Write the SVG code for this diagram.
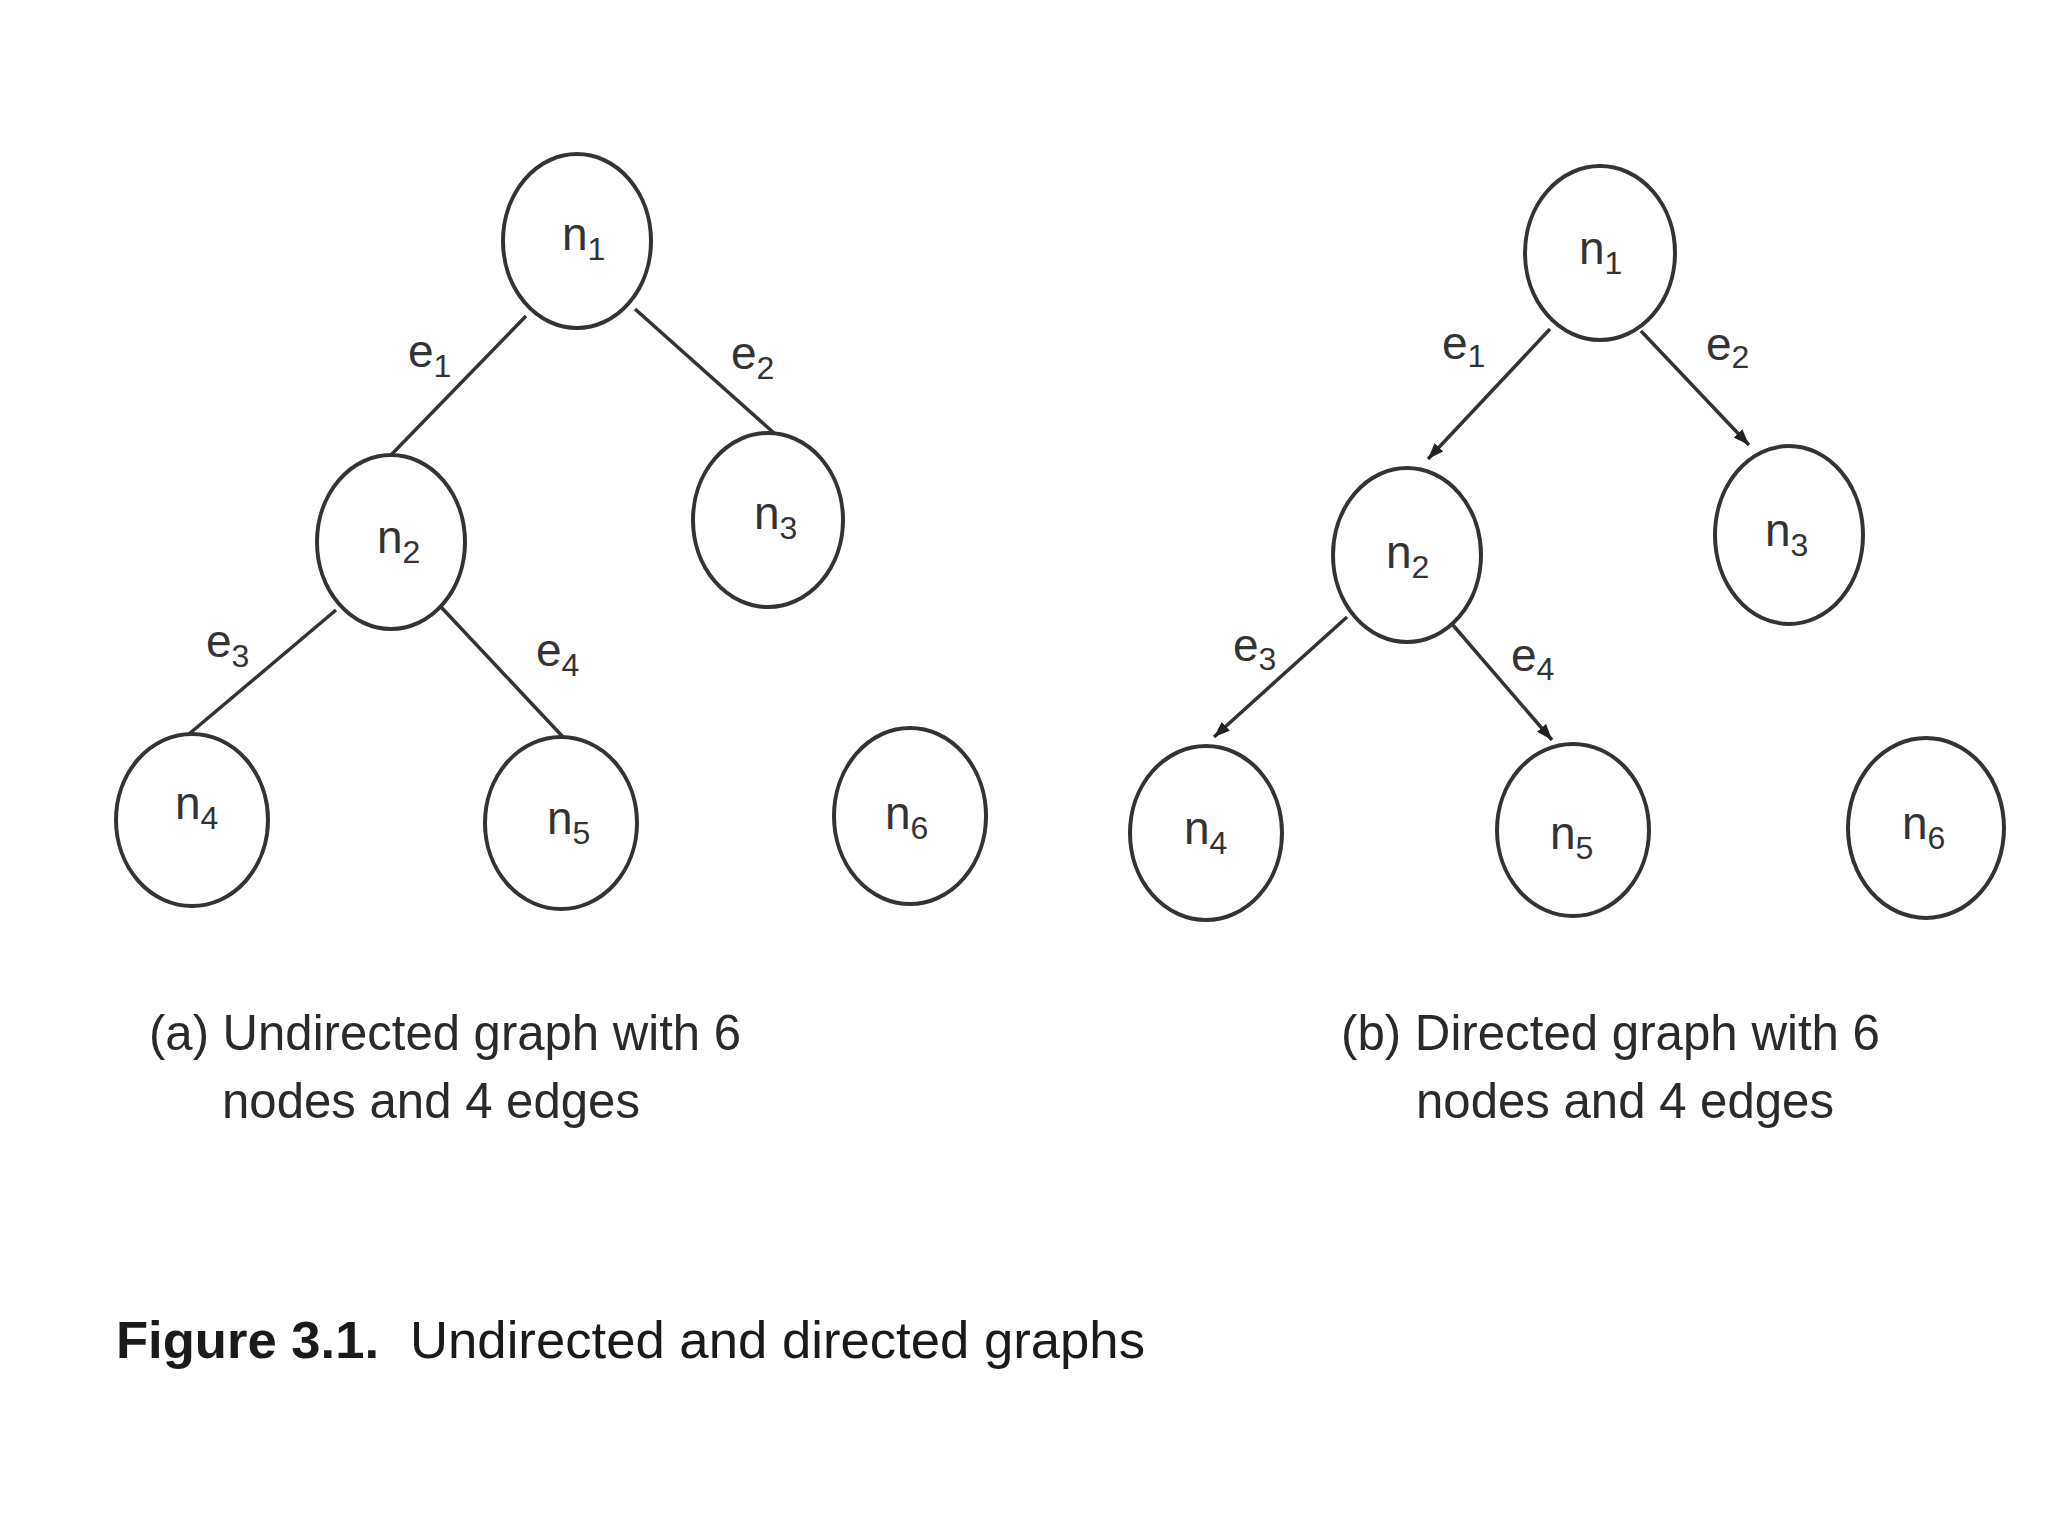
<svg xmlns="http://www.w3.org/2000/svg" width="2048" height="1536" viewBox="0 0 2048 1536">
<style>
.node{fill:#fff;stroke:#333;stroke-width:4}
.edge{stroke:#333;stroke-width:3.5;fill:none}
.lbl{font-family:"Liberation Sans",Arial,sans-serif;font-size:46px;fill:#333}
.sub{font-size:32px}
.cap{font-family:"Liberation Sans",Arial,sans-serif;font-size:50px;fill:#2a2a2a}
.fig{font-family:"Liberation Sans",Arial,sans-serif;font-size:52px;fill:#1a1a1a}
</style>
<defs>
<marker id="arr" markerUnits="userSpaceOnUse" markerWidth="18" markerHeight="12" refX="16" refY="6" orient="auto">
<path d="M0,0 L16,6 L0,12 z" fill="#222"/>
</marker>
</defs>
<rect width="2048" height="1536" fill="#fff"/>
<g id="connectors">
<line class="edge" x1="526" y1="316" x2="391" y2="455"/>
<line class="edge" x1="635" y1="309" x2="774" y2="433"/>
<line class="edge" x1="336" y1="610" x2="189" y2="734"/>
<line class="edge" x1="441" y1="607" x2="563" y2="737"/>
<line class="edge" x1="1550" y1="329" x2="1428" y2="459" marker-end="url(#arr)"/>
<line class="edge" x1="1641" y1="331" x2="1749" y2="445" marker-end="url(#arr)"/>
<line class="edge" x1="1347" y1="617" x2="1214" y2="737" marker-end="url(#arr)"/>
<line class="edge" x1="1452" y1="624" x2="1552" y2="740" marker-end="url(#arr)"/>
</g>
<g id="edge-labels">
<text class="lbl" x="408" y="367">e<tspan class="sub" dy="10">1</tspan></text>
<text class="lbl" x="731" y="369">e<tspan class="sub" dy="10">2</tspan></text>
<text class="lbl" x="206" y="657">e<tspan class="sub" dy="10">3</tspan></text>
<text class="lbl" x="536" y="666">e<tspan class="sub" dy="10">4</tspan></text>
<text class="lbl" x="1442" y="359">e<tspan class="sub" dy="8">1</tspan></text>
<text class="lbl" x="1706" y="360">e<tspan class="sub" dy="8">2</tspan></text>
<text class="lbl" x="1233" y="661">e<tspan class="sub" dy="9">3</tspan></text>
<text class="lbl" x="1511" y="671">e<tspan class="sub" dy="9">4</tspan></text>
</g>
<g id="a-n1"><ellipse class="node" cx="577" cy="241" rx="74" ry="87"/><text class="lbl" x="562" y="250">n<tspan class="sub" dy="10">1</tspan></text></g>
<g id="a-n2"><ellipse class="node" cx="391" cy="542" rx="74" ry="87"/><text class="lbl" x="377" y="553">n<tspan class="sub" dy="10">2</tspan></text></g>
<g id="a-n3"><ellipse class="node" cx="768" cy="520" rx="75" ry="87"/><text class="lbl" x="754" y="529">n<tspan class="sub" dy="10">3</tspan></text></g>
<g id="a-n4"><ellipse class="node" cx="192" cy="820" rx="76" ry="86"/><text class="lbl" x="175" y="819">n<tspan class="sub" dy="10">4</tspan></text></g>
<g id="a-n5"><ellipse class="node" cx="561" cy="823" rx="76" ry="86"/><text class="lbl" x="547" y="834">n<tspan class="sub" dy="10">5</tspan></text></g>
<g id="a-n6"><ellipse class="node" cx="910" cy="816" rx="76" ry="88"/><text class="lbl" x="885" y="829">n<tspan class="sub" dy="10">6</tspan></text></g>
<g id="b-n1"><ellipse class="node" cx="1600" cy="253" rx="75" ry="87"/><text class="lbl" x="1579" y="264">n<tspan class="sub" dy="10">1</tspan></text></g>
<g id="b-n2"><ellipse class="node" cx="1407" cy="555" rx="74" ry="87"/><text class="lbl" x="1386" y="568">n<tspan class="sub" dy="10">2</tspan></text></g>
<g id="b-n3"><ellipse class="node" cx="1789" cy="535" rx="74" ry="89"/><text class="lbl" x="1765" y="546">n<tspan class="sub" dy="10">3</tspan></text></g>
<g id="b-n4"><ellipse class="node" cx="1206" cy="833" rx="76" ry="87"/><text class="lbl" x="1184" y="844">n<tspan class="sub" dy="10">4</tspan></text></g>
<g id="b-n5"><ellipse class="node" cx="1573" cy="830" rx="76" ry="86"/><text class="lbl" x="1550" y="849">n<tspan class="sub" dy="10">5</tspan></text></g>
<g id="b-n6"><ellipse class="node" cx="1926" cy="828" rx="78" ry="90"/><text class="lbl" x="1902" y="839">n<tspan class="sub" dy="10">6</tspan></text></g>
<g id="captions">
<text class="cap" x="149" y="1050" textLength="592" lengthAdjust="spacingAndGlyphs">(a) Undirected graph with 6</text>
<text class="cap" x="222" y="1118" textLength="418" lengthAdjust="spacingAndGlyphs">nodes and 4 edges</text>
<text class="cap" x="1341" y="1050" textLength="539" lengthAdjust="spacingAndGlyphs">(b) Directed graph with 6</text>
<text class="cap" x="1416" y="1118" textLength="418" lengthAdjust="spacingAndGlyphs">nodes and 4 edges</text>
<text class="fig" x="116" y="1358" font-weight="bold" textLength="263" lengthAdjust="spacingAndGlyphs">Figure 3.1.</text>
<text class="fig" x="410" y="1358" textLength="735" lengthAdjust="spacingAndGlyphs">Undirected and directed graphs</text>
</g>
</svg>
